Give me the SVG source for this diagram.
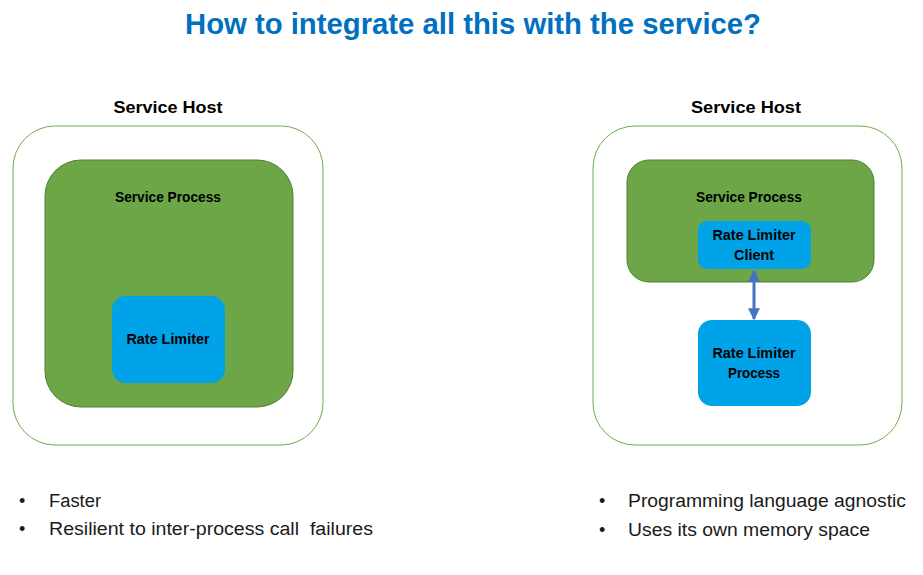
<svg xmlns="http://www.w3.org/2000/svg" width="923" height="575" viewBox="0 0 923 575">
  <style>
    text { font-family: "Liberation Sans", Arial, sans-serif; }
    .title { font-size: 29px; font-weight: bold; fill: #0070C0; }
    .host-label { font-size: 17px; font-weight: bold; fill: #000; text-anchor: middle; }
    .label { font-size: 14px; font-weight: bold; fill: #000; text-anchor: middle; }
    .bullet { font-size: 18px; fill: #1a1a1a; }
    .host { fill: #ffffff; stroke: #70AD47; stroke-width: 1; }
    .process { fill: #6CA646; stroke: #507E32; stroke-width: 1; }
    .limiter { fill: #00A2E8; stroke: none; }
    .link { stroke: #4472C4; stroke-width: 3; fill: none; }
  </style>
  <defs>
    <marker id="arrow-head" viewBox="0 0 10 10" refX="9" refY="5" markerWidth="4" markerHeight="4" orient="auto-start-reverse" markerUnits="strokeWidth">
      <path d="M0,0 L10,5 L0,10 z" fill="#4472C4"/>
    </marker>
  </defs>

  <rect width="923" height="575" fill="#ffffff"/>

  <text class="title" x="185" y="34" textLength="576" lengthAdjust="spacingAndGlyphs">How to integrate all this with the service?</text>

  <!-- Left: rate limiter embedded in the service process -->
  <g id="left-host">
    <text class="host-label" x="168" y="113" textLength="109" lengthAdjust="spacingAndGlyphs">Service Host</text>
    <rect class="host" x="13" y="126" width="310" height="319" rx="42" ry="42"/>
  </g>
  <g id="left-service-process">
    <rect class="process" x="45" y="160" width="248" height="247" rx="36" ry="36"/>
    <text class="label" x="168" y="202" textLength="106" lengthAdjust="spacingAndGlyphs">Service Process</text>
  </g>
  <g id="left-rate-limiter">
    <rect class="limiter" x="112" y="296" width="113" height="87" rx="14" ry="14"/>
    <text class="label" x="168" y="344" textLength="83" lengthAdjust="spacingAndGlyphs">Rate Limiter</text>
  </g>

  <!-- Right: rate limiter as a separate process -->
  <g id="right-host">
    <text class="host-label" x="746" y="113" textLength="110" lengthAdjust="spacingAndGlyphs">Service Host</text>
    <rect class="host" x="593" y="126" width="309" height="319" rx="42" ry="42"/>
  </g>
  <g id="right-service-process">
    <rect class="process" x="627" y="160" width="247" height="122" rx="22" ry="22"/>
    <text class="label" x="749" y="202" textLength="106" lengthAdjust="spacingAndGlyphs">Service Process</text>
  </g>
  <g id="rate-limiter-client">
    <rect class="limiter" x="698" y="221" width="113" height="48" rx="9" ry="9"/>
    <text class="label" x="754" y="240" textLength="83" lengthAdjust="spacingAndGlyphs">Rate Limiter</text>
    <text class="label" x="754" y="260" textLength="40" lengthAdjust="spacingAndGlyphs">Client</text>
  </g>
  <g id="rate-limiter-process">
    <rect class="limiter" x="698" y="320" width="113" height="86" rx="14" ry="14"/>
    <text class="label" x="754" y="358" textLength="83" lengthAdjust="spacingAndGlyphs">Rate Limiter</text>
    <text class="label" x="754" y="378" textLength="52" lengthAdjust="spacingAndGlyphs">Process</text>
  </g>

  <g id="connectors">
    <line class="link" x1="754" y1="271" x2="754" y2="319" marker-start="url(#arrow-head)" marker-end="url(#arrow-head)"/>
  </g>

  <!-- Bullet lists -->
  <g id="left-notes">
    <text class="bullet" x="19" y="507">•</text>
    <text class="bullet" x="49" y="507" textLength="52" lengthAdjust="spacingAndGlyphs">Faster</text>
    <text class="bullet" x="19" y="535">•</text>
    <text class="bullet" x="49" y="535" textLength="324" lengthAdjust="spacingAndGlyphs" xml:space="preserve">Resilient to inter-process call  failures</text>
  </g>
  <g id="right-notes">
    <text class="bullet" x="599" y="507">•</text>
    <text class="bullet" x="628" y="507" textLength="278" lengthAdjust="spacingAndGlyphs">Programming language agnostic</text>
    <text class="bullet" x="599" y="536">•</text>
    <text class="bullet" x="628" y="536" textLength="242" lengthAdjust="spacingAndGlyphs">Uses its own memory space</text>
  </g>
</svg>
